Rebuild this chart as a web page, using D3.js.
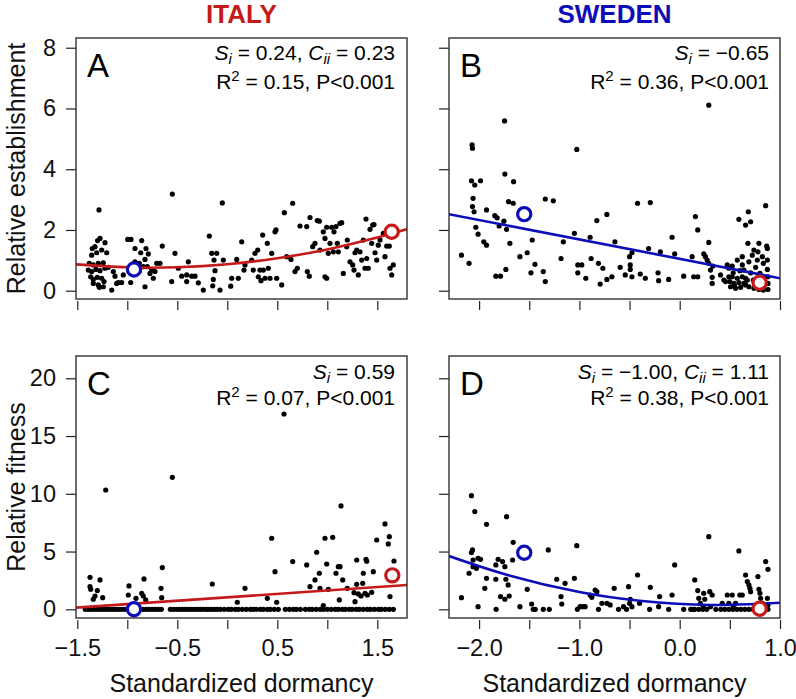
<!DOCTYPE html>
<html>
<head>
<meta charset="utf-8">
<script src="https://cdn.jsdelivr.net/npm/d3@7"></script>
<style>
  html, body { margin: 0; padding: 0; background: #fff; }
  svg { display: block; }
  text { font-family: "Liberation Sans", Arial, Helvetica, sans-serif; }
</style>
</head>
<body>
<svg id="chart" width="796" height="699"></svg>
<script>
// ---------------- DATA ----------------
const columnTitles = ["ITALY", "SWEDEN"];
const rowTitles = ["Relative establishment", "Relative fitness"];
const xTitle = "Standardized dormancy";
const panelLetters = ["A", "B", "C", "D"];

const xTicksItaly = [-1.5, -1.0, -0.5, 0.0, 0.5, 1.0, 1.5];
const xTickLabelsItaly = ["−1.5", "", "−0.5", "", "0.5", "", "1.5"];
const xTicksSweden = [-2.0, -1.5, -1.0, -0.5, 0.0, 0.5, 1.0];
const xTickLabelsSweden = ["−2.0", "", "−1.0", "", "0.0", "", "1.0"];
const yTicksEst = [0, 2, 4, 6, 8];
const yTicksFit = [0, 5, 10, 15, 20];

// Panel A: Italy, relative establishment
const estItaly = [
[-1.283,2.66],[-1.273,1.72],[-1.297,1.65],[-1.323,1.45],[-1.35,1.39],[-1.223,1.58],[-1.256,1.34],[-1.306,1.25],
[-1.356,1.17],[-1.206,1.25],[-1.38,0.90],[-1.34,0.85],[-1.29,0.90],[-1.24,0.92],[-1.39,0.68],[-1.356,0.63],
[-1.313,0.70],[-1.273,0.66],[-1.223,0.74],[-1.19,0.77],[-1.366,0.46],[-1.34,0.37],[-1.30,0.44],[-1.256,0.41],
[-1.233,0.30],[-1.34,0.24],[-1.29,0.19],[-1.24,0.13],[-1.28,0.11],[-1.14,0.63],[-1.123,0.48],[-1.106,0.24],
[-1.156,0.02],[-1.056,0.27],[-1.09,0.27],[-1.04,0.52],[-0.996,1.69],[-0.963,1.69],[-0.856,1.65],[-0.923,1.39],
[-0.813,1.39],[-0.866,1.25],[-0.79,1.21],[-0.823,1.03],[-0.88,0.90],[-0.84,0.79],[-0.80,0.79],[-0.756,0.68],
[-0.723,0.63],[-0.773,0.57],[-0.706,0.90],[-0.673,0.90],[-0.65,1.47],[-0.74,0.41],[-0.823,0.13],[-0.966,0.27],
[-0.883,0.63],[-0.923,0.95],[-0.55,3.18],[-0.523,1.23],[-0.49,0.74],[-0.556,0.30],[-0.456,0.48],[-0.406,0.52],
[-0.39,0.95],[-0.356,0.48],[-0.323,0.48],[-0.406,0.30],[-0.29,0.26],[-0.24,0.02],[-0.18,1.80],[-0.156,1.23],
[-0.133,1.01],[-0.123,0.66],[-0.106,1.23],[-0.14,0.37],[-0.146,0.16],[-0.073,0.02],[-0.05,2.89],[-0.04,1.01],
[0.034,0.15],[0.044,0.41],[0.094,1.03],[0.11,0.41],[0.144,1.61],[0.167,0.68],[0.177,0.85],[0.244,1.01],
[0.26,0.68],[0.277,1.23],[0.304,1.34],[0.31,0.46],[0.327,0.68],[0.337,0.33],[0.354,1.83],[0.36,0.68],
[0.377,0.41],[0.40,1.56],[0.41,0.74],[0.427,0.41],[0.444,1.23],[0.477,1.94],[0.487,2.00],[0.494,0.41],
[0.544,0.19],[0.57,2.57],[0.594,1.12],[0.637,1.03],[0.654,2.88],[0.677,0.63],[0.70,0.74],[0.727,2.13],
[0.794,2.11],[0.80,0.63],[0.82,0.48],[0.827,2.41],[0.854,1.45],[0.877,1.56],[0.90,2.31],[0.92,2.29],
[0.927,1.34],[0.96,1.94],[0.977,1.72],[0.977,0.46],[0.994,0.41],[0.994,2.09],[1.01,1.23],[1.027,1.56],
[1.044,2.09],[1.06,1.28],[1.067,1.94],[1.087,2.11],[1.10,1.56],[1.11,1.28],[1.127,2.22],[1.144,2.24],
[1.16,0.57],[1.194,1.45],[1.20,1.67],[1.227,0.95],[1.254,0.85],[1.267,0.68],[1.277,1.25],[1.294,1.34],
[1.31,0.52],[1.327,1.28],[1.344,1.01],[1.36,1.67],[1.377,0.74],[1.387,2.36],[1.394,1.06],[1.41,0.74],
[1.427,2.02],[1.444,1.56],[1.454,2.16],[1.467,2.18],[1.477,1.25],[1.494,1.01],[1.51,1.50],[1.527,1.67],
[1.56,1.89],[1.577,1.12],[1.594,1.47],[1.62,1.47],[1.627,0.74],[1.644,0.52],[1.66,0.85]
];

// Panel B: Sweden, relative establishment
const estSweden = [
[-2.176,1.17],[-2.10,0.90],[-2.07,4.80],[-2.066,4.69],[-2.076,3.62],[-2.043,3.48],[-1.986,3.62],[-2.06,3.04],
[-2.066,2.77],[-2.05,2.60],[-1.926,2.66],[-2.033,2.09],[-2.01,1.86],[-1.953,1.61],[-1.926,1.50],[-1.843,2.47],
[-1.82,2.40],[-1.80,2.13],[-1.753,2.29],[-1.726,2.02],[-1.746,5.59],[-1.743,3.84],[-1.656,3.59],[-1.706,2.93],
[-1.66,2.88],[-1.693,1.56],[-1.733,0.70],[-1.833,0.48],[-1.786,0.48],[-1.593,1.12],[-1.52,1.25],[-1.47,1.67],
[-1.443,0.87],[-1.483,0.59],[-1.36,0.63],[-1.34,0.30],[-1.34,3.02],[-1.26,2.96],[-1.183,1.06],[-1.16,1.61],
[-1.026,4.65],[-1.05,1.89],[-1.016,0.85],[-0.976,0.85],[-1.016,0.59],[-0.936,0.41],[-0.893,1.76],[-0.883,1.06],
[-0.826,2.31],[-0.81,0.90],[-0.793,0.22],[-0.766,0.74],[-0.726,2.51],[-0.726,0.37],[-0.676,0.46],[-0.646,1.61],
[-0.593,0.77],[-0.543,0.52],[-0.50,1.12],[-0.493,0.85],[-0.493,0.70],[-0.476,0.46],[-0.476,1.25],[-0.42,2.88],
[-0.393,0.55],[-0.343,0.41],[-0.31,1.39],[-0.293,2.90],[-0.216,0.59],[-0.193,1.28],[-0.21,0.33],[-0.11,0.37],
[-0.076,1.76],[-0.05,1.21],[0.04,0.48],[0.124,1.12],[0.14,0.46],[0.157,2.44],[0.18,2.00],[0.18,0.46],
[0.24,1.21],[0.257,1.12],[0.274,1.01],[0.29,6.11],[0.29,1.59],[0.29,0.90],[0.307,0.68],[0.324,0.44],
[0.324,0.24],[0.33,0.81],[0.407,0.52],[0.44,0.35],[0.474,0.85],[0.49,0.74],[0.50,0.30],[0.524,0.81],
[0.524,0.46],[0.54,0.24],[0.547,0.15],[0.574,1.01],[0.574,0.41],[0.59,2.35],[0.684,2.60],[0.707,2.27],
[0.657,2.16],[0.624,1.12],[0.624,0.85],[0.64,0.68],[0.657,0.41],[0.657,0.19],[0.68,1.56],[0.69,0.95],
[0.707,0.59],[0.724,1.17],[0.734,0.35],[0.74,1.34],[0.757,0.77],[0.774,1.01],[0.78,1.28],[0.79,1.56],
[0.80,0.57],[0.807,0.13],[0.824,1.12],[0.834,0.90],[0.84,0.44],[0.847,0.19],[0.857,2.80],[0.867,1.47],
[0.874,1.39],[0.874,1.01],[0.874,0.70],[0.88,0.46],[0.88,0.24],[0.88,0.04],[0.457,0.30],[0.507,0.13],
[0.557,0.08],[0.607,0.11],[0.64,0.24],[0.69,0.13],[0.74,0.08],[0.79,0.04],[0.834,0.02],[0.59,0.27],
[0.674,0.35],[0.49,0.46],[0.533,0.59],[0.60,0.66],[0.624,0.46]
];

// Panel C: Italy, relative fitness (non-zero values)
const fitItaly = [
[-1.373,2.77],[-1.373,1.96],[-1.366,1.73],[-1.273,2.54],[-1.30,1.62],[-1.323,1.15],[-1.34,0.87],[-1.246,1.01],
[-1.216,10.33],[-0.983,2.02],[-0.99,1.24],[-0.913,0.95],[-0.856,1.39],[-0.84,1.15],[-0.833,2.63],[-0.816,0.81],
[-0.663,1.82],[-0.656,1.01],[-0.65,3.61],[-0.55,11.43],[-0.15,2.19],[0.10,0.61],[0.177,1.82],[0.40,0.95],
[0.444,6.15],[0.477,3.26],[0.494,0.61],[0.567,16.91],[0.654,4.13],[0.794,3.84],[0.827,1.96],[0.877,2.54],
[0.894,4.94],[0.92,3.12],[0.927,1.82],[0.96,0.32],[0.977,6.15],[0.994,3.92],[1.01,1.73],[1.054,6.23],
[1.087,3.12],[1.11,3.69],[1.127,3.69],[1.12,0.81],[1.137,8.95],[1.154,2.54],[1.20,1.82],[1.267,1.44],
[1.277,0.66],[1.294,4.27],[1.294,2.16],[1.31,1.33],[1.337,1.15],[1.354,2.25],[1.36,3.12],[1.377,1.39],
[1.387,4.33],[1.394,4.16],[1.40,1.24],[1.444,1.47],[1.46,3.26],[1.494,6.0],[1.577,7.39],[1.61,5.66],
[1.62,6.29],[1.627,1.10],[1.667,4.18]
];
// Panel C: Italy, dormancy values of plants with zero fitness
const fitZeroItaly = [
-1.42,-1.39,-1.36,-1.33,-1.30,-1.27,-1.24,-1.21,-1.18,-1.15,-1.12,-1.09,-1.06,-1.03,-1.00,-0.97,-0.94,-0.90,
-0.87,-0.84,-0.81,-0.78,-0.75,-0.72,-0.69,-0.66,-0.57,-0.54,-0.51,-0.48,-0.45,-0.42,-0.39,-0.36,-0.33,-0.30,
-0.27,-0.24,-0.21,-0.19,-0.16,-0.13,-0.10,-0.07,-0.03,0.01,0.04,0.08,0.11,0.15,0.19,0.23,0.26,0.29,0.33,
0.36,0.40,0.43,0.47,0.51,0.58,0.62,0.66,0.69,0.73,0.78,0.82,0.85,0.89,0.93,0.96,1.00,1.04,1.08,1.11,1.15,
1.18,1.22,1.25,1.29,1.32,1.36,1.40,1.43,1.47,1.51,1.54,1.58,1.62,1.66
];

// Panel D: Sweden, relative fitness (non-zero values)
const fitSweden = [
[-2.176,1.01],[-2.10,3.12],[-2.076,9.84],[-2.043,8.46],[-2.066,5.14],[-2.076,4.91],[-2.06,4.27],[-2.01,4.42],
[-2.06,3.69],[-2.026,3.55],[-1.986,4.33],[-1.926,7.36],[-1.926,2.68],[-1.943,1.82],[-2.01,0.23],[-1.833,3.84],
[-1.81,4.33],[-1.766,4.13],[-1.743,3.69],[-1.833,2.60],[-1.786,1.10],[-1.743,0.87],[-1.726,8.02],[-1.70,1.15],
[-1.71,2.11],[-1.733,2.60],[-1.66,5.80],[-1.666,4.27],[-1.593,0.23],[-1.52,1.73],[-1.476,0.46],[-1.31,5.14],
[-1.226,2.60],[-1.183,1.10],[-1.176,0.46],[-1.143,2.25],[-1.05,2.68],[-1.026,5.51],[-0.993,0.23],[-0.966,0.23],
[-0.943,0.23],[-0.893,1.24],[-0.876,1.04],[-0.843,1.67],[-0.826,1.53],[-0.776,0.52],[-0.726,0.52],[-0.693,0.38],
[-0.653,1.82],[-0.56,0.23],[-0.51,1.96],[-0.50,0.52],[-0.493,0.87],[-0.476,0.23],[-0.42,2.97],[-0.40,0.52],
[-0.293,1.90],[-0.21,0.23],[-0.20,1.10],[-0.076,1.24],[-0.05,3.84],[0.15,2.54],[0.18,1.62],[0.19,0.95],
[0.207,0.52],[0.234,0.23],[0.24,1.39],[0.25,0.87],[0.29,6.29],[0.30,1.53],[0.307,0.23],[0.324,1.24],
[0.424,0.52],[0.474,1.24],[0.49,0.52],[0.524,1.24],[0.534,0.23],[0.557,0.52],[0.59,5.05],[0.60,1.24],
[0.624,1.24],[0.657,2.97],[0.674,2.40],[0.69,2.11],[0.70,1.82],[0.707,1.53],[0.78,2.83],[0.79,1.73],
[0.80,1.39],[0.807,0.95],[0.824,0.52],[0.857,4.13],[0.88,3.46],[0.874,0.95],[0.88,0.38]
];
// Panel D: Sweden, dormancy values of plants with zero fitness
const fitZeroSweden = [
-1.83,-1.46,-1.44,-1.36,-1.30,-1.02,-0.81,-0.61,-0.53,-0.30,-0.11,0.04,0.11,0.13,0.15,0.19,0.23,0.27,
0.36,0.41,0.45,0.49,0.53,0.57,0.61,0.65,0.69,0.73,0.77,0.81,0.85,0.88
];

// Fitted selection curves
const curveEstItaly = [[-1.52,0.87],[-1.0,0.77],[-0.5,0.77],[0.0,0.87],[0.5,1.07],[1.0,1.36],[1.5,1.75],[1.8,2.03]];
const curveEstSweden = [[-2.3,2.52],[1.0,0.41]];
const curveFitItaly = [[-1.52,0.14],[1.8,2.10]];
const curveFitSweden = [[-2.3,4.61],[-1.7,2.93],[-1.0,1.49],[-0.4,0.74],[0.3,0.37],[1.0,0.57]];

// Mean dormancy / response of the two source populations (open circles)
const swedenMark = [[-0.933,0.70],[-1.55,2.52],[-0.933,0.0],[-1.55,4.9]];
const italyMark  = [[1.644,1.94],[0.797,0.26],[1.65,2.94],[0.797,0.05]];

// Annotations
const statS = ["0.24", "−0.65", "0.59", "−1.00"];
const statC = ["0.23", null, null, "1.11"];
const statR2 = ["0.15", "0.36", "0.07", "0.38"];
const statP = ["P<0.001", "P<0.001", "P<0.001", "P<0.001"];

// ---------------- DRAWING ----------------
const RED = "#c41a1a", BLUE = "#0d0db8";
const svg = d3.select("#chart");

const boxes = [
  {x0: 76,  x1: 407, y0: 38,  y1: 299},
  {x0: 449, x1: 780, y0: 38,  y1: 299},
  {x0: 76,  x1: 407, y0: 356, y1: 618},
  {x0: 449, x1: 780, y0: 356, y1: 618}
];
const xDomItaly = [-1.513, 1.797], xDomSweden = [-2.3, 1.0];
const yDomEst = [-0.273, 8.32], yDomFit = [-0.753, 21.93];

const panels = [
  {box: boxes[0], xd: xDomItaly, yd: yDomEst, pts: estItaly, curve: curveEstItaly, lc: RED,
   xt: xTicksItaly, xl: xTickLabelsItaly, yt: yTicksEst, showX: false, showY: true},
  {box: boxes[1], xd: xDomSweden, yd: yDomEst, pts: estSweden, curve: curveEstSweden, lc: BLUE,
   xt: xTicksSweden, xl: xTickLabelsSweden, yt: yTicksEst, showX: false, showY: false},
  {box: boxes[2], xd: xDomItaly, yd: yDomFit, pts: fitItaly.concat(fitZeroItaly.map(v => [v, 0])), curve: curveFitItaly, lc: RED,
   xt: xTicksItaly, xl: xTickLabelsItaly, yt: yTicksFit, showX: true, showY: true},
  {box: boxes[3], xd: xDomSweden, yd: yDomFit, pts: fitSweden.concat(fitZeroSweden.map(v => [v, 0])), curve: curveFitSweden, lc: BLUE,
   xt: xTicksSweden, xl: xTickLabelsSweden, yt: yTicksFit, showX: true, showY: false}
];

const TICK_FS = 23.5, LAB_FS = 25, ANN_FS = 21, SUB_FS = 15;

panels.forEach((p, i) => {
  const b = p.box;
  const x = d3.scaleLinear().domain(p.xd).range([b.x0, b.x1]);
  const y = d3.scaleLinear().domain(p.yd).range([b.y1, b.y0]);
  const g = svg.append("g");

  const clipId = "clip" + i;
  svg.append("clipPath").attr("id", clipId).append("rect")
    .attr("x", b.x0).attr("y", b.y0).attr("width", b.x1 - b.x0).attr("height", b.y1 - b.y0);

  // x axis (offset below box)
  const xAxis = d3.axisBottom(x).tickValues(p.xt).tickSize(9).tickPadding(9)
    .tickFormat((d, k) => p.showX ? p.xl[k] : "");
  const gx = g.append("g").attr("transform", `translate(0,${b.y1 + 1})`).call(xAxis);
  gx.select(".domain").remove();
  gx.selectAll(".tick line").attr("stroke", "#222").attr("stroke-width", 1.2)
    .attr("y1", 1).attr("y2", 10);
  gx.selectAll(".tick text").attr("font-size", TICK_FS).attr("fill", "#111")
    .attr("font-family", "Liberation Sans, Arial, sans-serif").attr("dy", "0.71em").attr("y", 20);

  // y axis
  const yAxis = d3.axisLeft(y).tickValues(p.yt).tickSize(10).tickPadding(10)
    .tickFormat(d => p.showY ? d : "");
  const gy = g.append("g").attr("transform", `translate(${b.x0},0)`).call(yAxis);
  gy.select(".domain").remove();
  gy.selectAll(".tick line").attr("stroke", "#222").attr("stroke-width", 1.2);
  gy.selectAll(".tick text").attr("font-size", TICK_FS).attr("fill", "#111")
    .attr("font-family", "Liberation Sans, Arial, sans-serif");

  // points
  const gp = g.append("g").attr("clip-path", `url(#${clipId})`);
  gp.selectAll("circle.dot").data(p.pts).join("circle").attr("class", "dot")
    .attr("cx", d => x(d[0])).attr("cy", d => y(d[1])).attr("r", 2.6).attr("fill", "#000");

  // fitted curve
  const line = d3.line().x(d => x(d[0])).y(d => y(d[1])).curve(d3.curveNatural);
  gp.append("path").datum(p.curve).attr("d", line).attr("fill", "none")
    .attr("stroke", p.lc).attr("stroke-width", 2.6);

  // open circles
  [[swedenMark[i], BLUE], [italyMark[i], RED]].forEach(([m, c]) => {
    g.append("circle").attr("cx", x(m[0])).attr("cy", y(m[1])).attr("r", 6.6)
      .attr("fill", "#fff").attr("stroke", c).attr("stroke-width", 3.2);
  });

  // box
  g.append("rect").attr("x", b.x0).attr("y", b.y0).attr("width", b.x1 - b.x0).attr("height", b.y1 - b.y0)
    .attr("fill", "none").attr("stroke", "#333").attr("stroke-width", 1.4);

  // panel letter
  g.append("text").attr("x", b.x0 + 11).attr("y", b.y0 + 39).attr("font-size", 33)
    .attr("fill", "#000").text(panelLetters[i]);

  // annotations
  const top = i < 2;
  const line1Y = b.y0 + (top ? 22 : 23);
  const line2Y = b.y0 + (top ? 51 : 49);
  const rx = b.x1 - (i % 2 === 0 ? 12 : 11);
  const t1 = g.append("text").attr("x", rx).attr("y", line1Y).attr("text-anchor", "end")
    .attr("font-size", ANN_FS).attr("fill", "#000");
  t1.append("tspan").attr("font-style", "italic").text("S");
  t1.append("tspan").attr("font-style", "italic").attr("font-size", SUB_FS).attr("dy", 4).text("i");
  t1.append("tspan").attr("dy", -4).text(" = " + statS[i]);
  if (statC[i]) {
    t1.append("tspan").text(", ");
    t1.append("tspan").attr("font-style", "italic").text("C");
    t1.append("tspan").attr("font-style", "italic").attr("font-size", SUB_FS).attr("dy", 4).text("ii");
    t1.append("tspan").attr("dy", -4).text(" = " + statC[i]);
  }
  const t2 = g.append("text").attr("x", rx).attr("y", line2Y).attr("text-anchor", "end")
    .attr("font-size", ANN_FS).attr("fill", "#000");
  t2.append("tspan").text("R");
  t2.append("tspan").attr("font-size", SUB_FS).attr("dy", -8).text("2");
  t2.append("tspan").attr("dy", 8).text(" = " + statR2[i] + ", " + statP[i]);
});

// column titles
[[columnTitles[0], RED, boxes[0]], [columnTitles[1], BLUE, boxes[1]]].forEach(([t, c, b]) => {
  svg.append("text").attr("x", (b.x0 + b.x1) / 2).attr("y", 23).attr("text-anchor", "middle")
    .attr("font-size", 26).attr("font-weight", "bold").attr("fill", c).text(t);
});

// row titles
[[rowTitles[0], boxes[0]], [rowTitles[1], boxes[2]]].forEach(([t, b]) => {
  svg.append("text").attr("transform", `translate(25,${(b.y0 + b.y1) / 2}) rotate(-90)`)
    .attr("text-anchor", "middle").attr("font-size", LAB_FS).attr("fill", "#111").text(t);
});

// x titles
[boxes[2], boxes[3]].forEach(b => {
  svg.append("text").attr("x", (b.x0 + b.x1) / 2).attr("y", 692).attr("text-anchor", "middle")
    .attr("font-size", LAB_FS).attr("fill", "#111").text(xTitle);
});
</script>
</body>
</html>
